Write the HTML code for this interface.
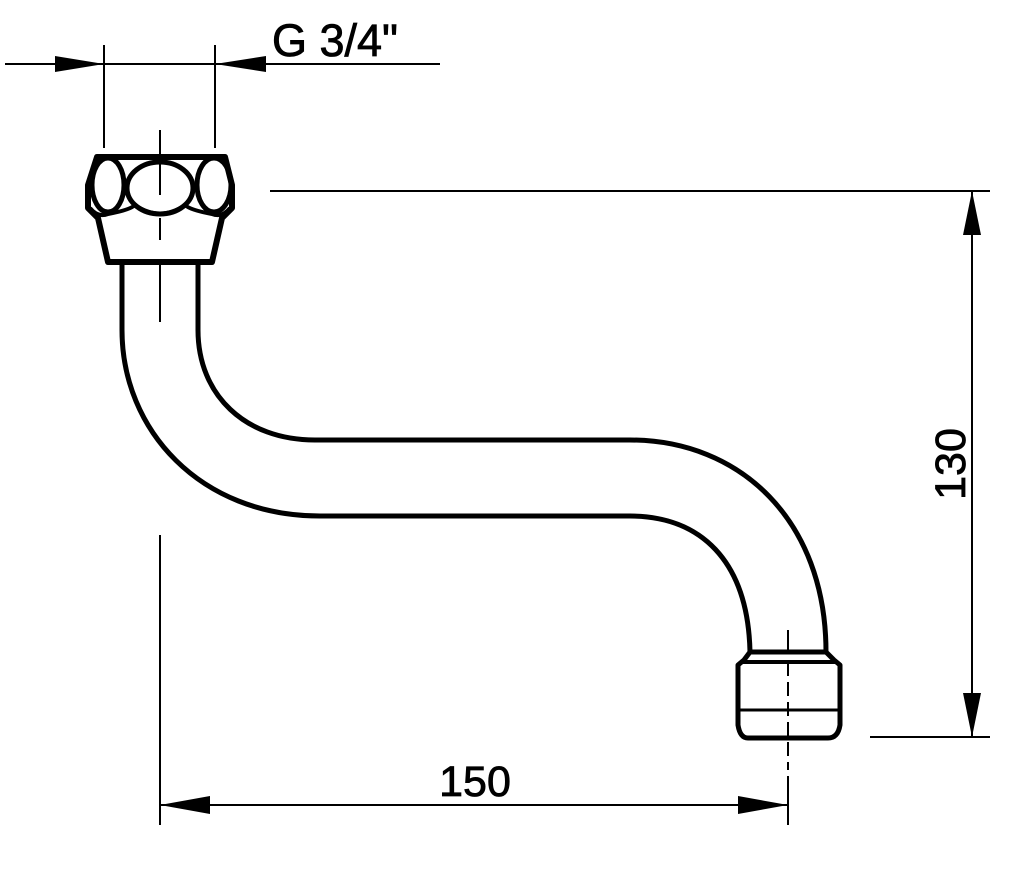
<!DOCTYPE html>
<html><head><style>html,body{margin:0;padding:0;background:#fff;}svg{display:block}</style></head>
<body>
<svg width="1024" height="873" viewBox="0 0 1024 873" xmlns="http://www.w3.org/2000/svg">
<g fill="none" stroke="#000" stroke-linecap="butt">
<!-- G 3/4 dim -->
<line x1="5" y1="64" x2="440" y2="64" stroke-width="2"/>
<line x1="104" y1="45" x2="104" y2="148" stroke-width="2"/>
<line x1="215" y1="45" x2="215" y2="148" stroke-width="2"/>
<!-- nut -->
<path d="M97 157 L225 157 L232 185 L232 208 L222 218 L212 262 L108 262 L98 218 L88 208 L88 185 Z" stroke-width="6" stroke-linejoin="round"/>
<path d="M90 208 Q98 218 108 214 Q130 210 135 205 Q160 222 185 205 Q190 210 212 214 Q222 218 230 208" stroke-width="4"/>
<ellipse cx="108" cy="185" rx="16" ry="27" stroke-width="5"/>
<ellipse cx="214" cy="185" rx="17" ry="27" stroke-width="5"/>
<ellipse cx="160" cy="188" rx="33" ry="26" stroke-width="5"/>
<line x1="160" y1="130" x2="160" y2="195" stroke-width="2"/>
<line x1="160" y1="218" x2="160" y2="240" stroke-width="2"/>
<line x1="160" y1="262" x2="160" y2="322" stroke-width="2"/>
<!-- pipe -->
<path d="M122 262 L122 330 C122 430 200 516 320 516 L630 516 C700 516 748 560 750 652" stroke-width="5"/>
<path d="M198 262 L198 330 C198 395 245 440 315 440 L630 440 C740 440 826 520 826 652" stroke-width="5"/>
<!-- nozzle -->
<path d="M750 652 L826 652 L834 660 L840 665 L840 725 Q838 738 828 738 L748 738 Q740 738 738 725 L738 665 L744 660 Z" stroke-width="5" stroke-linejoin="round"/>
<line x1="740" y1="662" x2="838" y2="662" stroke-width="4"/>
<line x1="740" y1="710" x2="838" y2="710" stroke-width="3"/>
<line x1="788" y1="630" x2="788" y2="650" stroke-width="2"/>
<line x1="788" y1="662" x2="788" y2="770" stroke-width="2" stroke-dasharray="14,6"/>
<!-- right dim -->
<line x1="270" y1="191" x2="990" y2="191" stroke-width="2"/>
<line x1="870" y1="737" x2="990" y2="737" stroke-width="2"/>
<line x1="972" y1="191" x2="972" y2="737" stroke-width="2"/>
<!-- bottom dim -->
<line x1="160" y1="535" x2="160" y2="825" stroke-width="2"/>
<line x1="788" y1="776" x2="788" y2="825" stroke-width="2"/>
<line x1="160" y1="805" x2="788" y2="805" stroke-width="2"/>
</g>
<g fill="#000">
<polygon points="104,64 55,56 55,72"/>
<polygon points="215,64 266,56 266,72"/>
<polygon points="972,191 963,235 981,235"/>
<polygon points="972,737 963,693 981,693"/>
<polygon points="160,805 210,796 210,814"/>
<polygon points="788,805 738,796 738,814"/>
</g>
<g font-family="Liberation Sans, sans-serif" fill="#000" stroke="#000" stroke-width="0.8">
<text x="272" y="56" font-size="45">G 3/4"</text>
<text x="475" y="796" font-size="43" text-anchor="middle">150</text>
<text transform="translate(965,464) rotate(-90)" font-size="43" text-anchor="middle">130</text>
</g>
</svg>
</body></html>
